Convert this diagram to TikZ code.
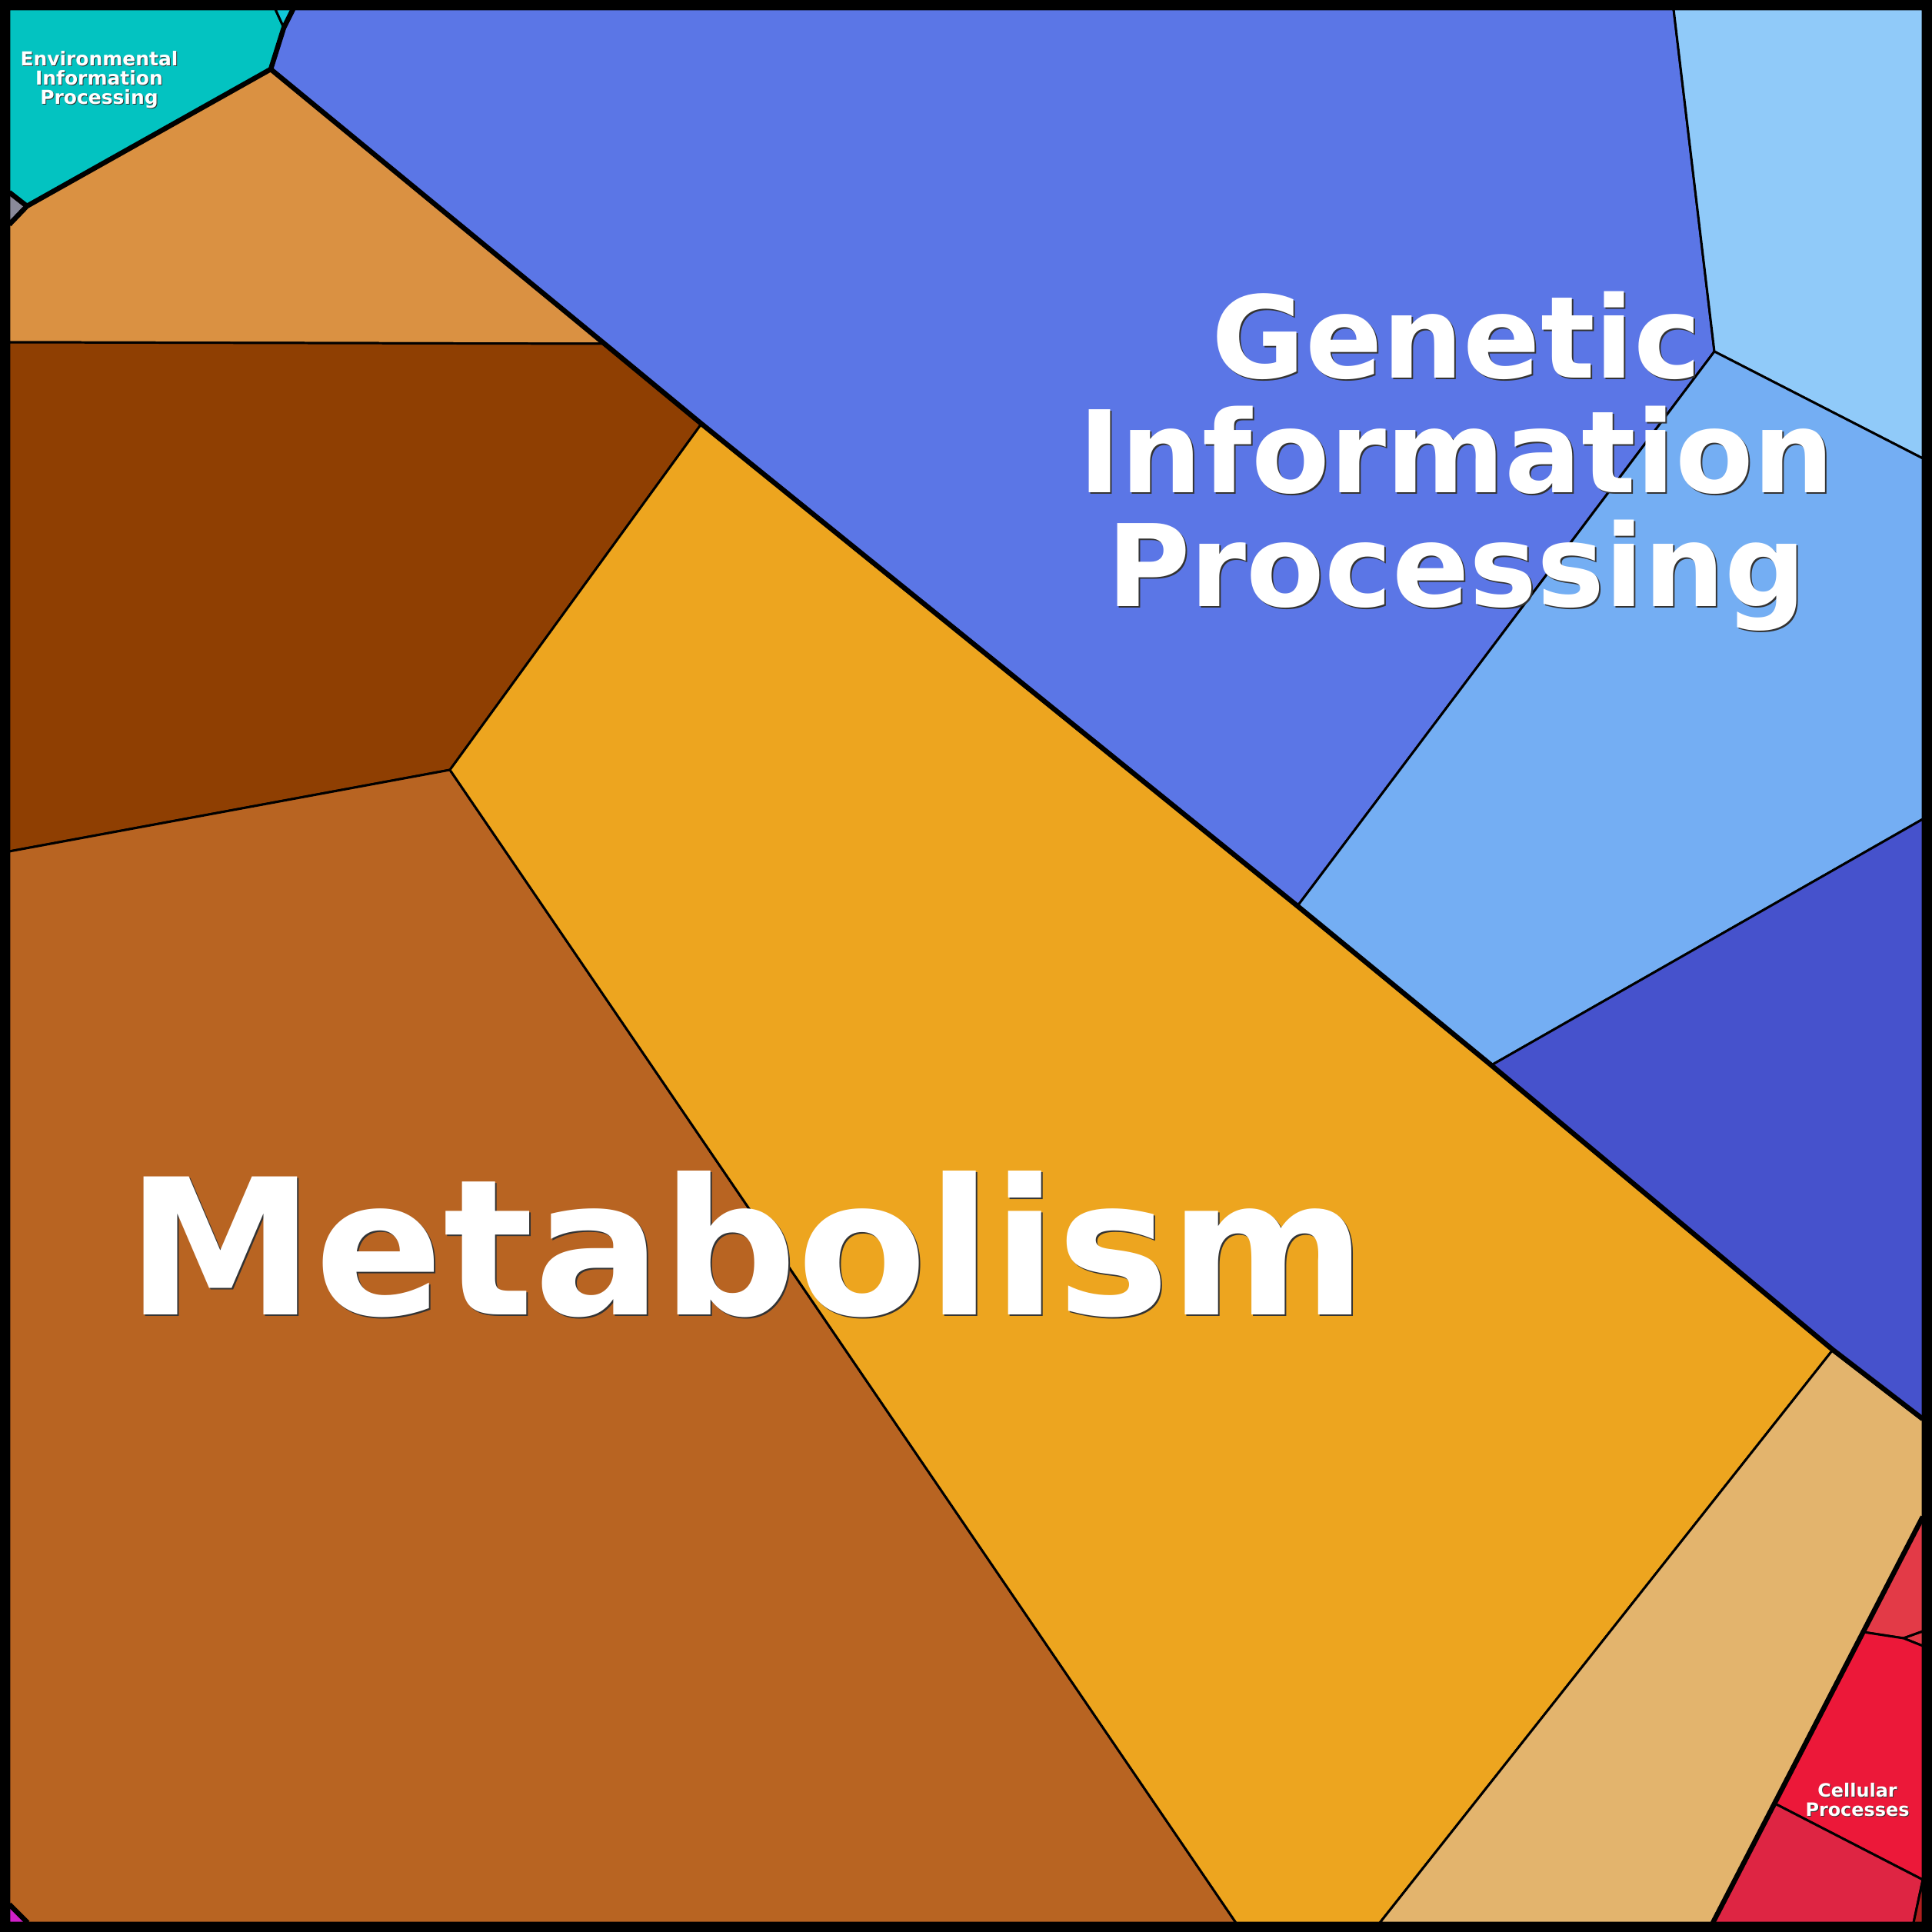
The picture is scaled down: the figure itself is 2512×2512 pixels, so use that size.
\documentclass[tikz,border=0pt]{standalone}
\usepackage{fontspec}
\setmainfont{DejaVu Sans}
\usetikzlibrary{
  calc,         % Calculations $...$
}
\definecolor{envteal}  {HTML}{03C3C1}
\definecolor{envcyan}  {HTML}{10C8D8}
\definecolor{othergray}{HTML}{8A8A9A}
\definecolor{otherpink}{HTML}{D020C8}
\definecolor{metorange}{HTML}{DA9142}
\definecolor{metdark}  {HTML}{8F3F02}
\definecolor{metbrown} {HTML}{B86422}
\definecolor{metgold}  {HTML}{EDA51F}
\definecolor{mettan}   {HTML}{E3B46D}
\definecolor{genblue}  {HTML}{5B76E6}
\definecolor{gensky}   {HTML}{90CAF9}
\definecolor{genmid}   {HTML}{74AEF3}
\definecolor{gendark}  {HTML}{4652CC}
\definecolor{celtop}   {HTML}{E33A47}
\definecolor{celmid}   {HTML}{EC1839}
\definecolor{celbot}   {HTML}{DE2543}
\definecolor{celdeep}  {HTML}{B01E1E}
\newcommand{\metafont}{\fontsize{70}{70}\selectfont\bfseries}
\newcommand{\genfont} {\fontsize{42.1}{42.25}\selectfont\bfseries}
\newcommand{\envfont} {\fontsize{7.1}{7.1}\selectfont\bfseries}
\newcommand{\celfont} {\fontsize{6.8}{7.1}\selectfont\bfseries}
\tikzset{
  x=0.01cm,
  y=-0.01cm,
  cell/.style={
    fill=#1,
    draw=black,
    line width=0.85pt,
    line join=round
  },
  border/.style={
    draw=black,
    line width=1.85pt,
    line join=round
  },
  frame/.style={
    draw=black,
    line width=3.41pt
  },
  lbl/.style={
    text=white,
    align=center,
    inner sep=0pt
  },
  lbl shadow/.style={
    lbl,
    text=black!80
  }
}
\begin{document}
\begin{tikzpicture}
\useasboundingbox (0,0) rectangle (2512,2512);
% corners and junctions
\coordinate (tl)  at (12,12);
\coordinate (tr)  at (2500,12);
\coordinate (br)  at (2500,2500);
\coordinate (bl)  at (12,2500);
\coordinate (et)  at (358,12);
\coordinate (ea)  at (381,12);
\coordinate (ec)  at (369,36);
\coordinate (eg)  at (352,90);
\coordinate (el)  at (35,268);
\coordinate (gt)  at (12,250);
\coordinate (gb)  at (12,292);
\coordinate (gm1) at (1687,1178);
\coordinate (gm2) at (1939,1385);
\coordinate (gm3) at (2383,1755);
\coordinate (gr)  at (2500,1845);
\coordinate (ob)  at (786,447);
\coordinate (bk)  at (912,551);
\coordinate (ol)  at (12,445);
\coordinate (bm)  at (585,1001);
\coordinate (bw)  at (12,1107);
\coordinate (mg1) at (12,2476);
\coordinate (mg2) at (36,2500);
\coordinate (mb1) at (1607,2500);
\coordinate (mb2) at (1794,2500);
\coordinate (sk)  at (2176,12);
\coordinate (sv)  at (2229,457);
\coordinate (sr)  at (2500,596);
\coordinate (mr)  at (2500,1065);
\coordinate (ct)  at (2500,1972);
\coordinate (cb)  at (2227,2500);
\coordinate (r1)  at ($(ct)!0.284!(cb)$);
\coordinate (r2)  at (2475,2130);
\coordinate (r3)  at (2500,2121);
\coordinate (r4)  at (2500,2140);
\coordinate (r5)  at ($(ct)!0.706!(cb)$);
\coordinate (r6)  at (2500,2444);
\coordinate (r7)  at (2488,2500);
% Environmental Information Processing
\path[cell=envteal]   (tl) -- (et) -- (ec) -- (eg) -- (el) -- (gt) -- cycle;
\path[cell=envcyan]   (et) -- (ea) -- (ec) -- cycle;
\path[cell=othergray] (gt) -- (el) -- (gb) -- cycle;
\path[cell=otherpink] (mg1) -- (mg2) -- (bl) -- cycle;
% Metabolism
\path[cell=metorange] (gb) -- (el) -- (eg) -- (ob) -- (ol) -- cycle;
\path[cell=metdark]   (ol) -- (ob) -- (bk) -- (bm) -- (bw) -- cycle;
\path[cell=metbrown]  (bw) -- (bm) -- (mb1) -- (mg2) -- (mg1) -- cycle;
\path[cell=metgold]   (bk) -- (gm1) -- (gm2) -- (gm3) -- (mb2) -- (mb1) -- (bm) -- cycle;
\path[cell=mettan]    (gm3) -- (gr) -- (ct) -- (cb) -- (mb2) -- cycle;
% Genetic Information Processing
\path[cell=genblue]   (ea) -- (sk) -- (sv) -- (gm1) -- (bk) -- (ob) -- (eg) -- (ec) -- cycle;
\path[cell=gensky]    (sk) -- (tr) -- (sr) -- (sv) -- cycle;
\path[cell=genmid]    (sv) -- (sr) -- (mr) -- (gm2) -- (gm1) -- cycle;
\path[cell=gendark]   (gm2) -- (mr) -- (gr) -- (gm3) -- cycle;
% Cellular Processes
\path[cell=celtop]    (ct) -- (r3) -- (r2) -- (r1) -- cycle;
\path[cell=celtop]    (r2) -- (r3) -- (r4) -- cycle;
\path[cell=celmid]    (r1) -- (r2) -- (r4) -- (r6) -- (r5) -- cycle;
\path[cell=celbot]    (r5) -- (r6) -- (r7) -- (cb) -- cycle;
\path[cell=celdeep]   (r6) -- (br) -- (r7) -- cycle;
% top level borders
\path[border] (ea) -- (ec) -- (eg) -- (el) -- (gb);
\path[border] (gt) -- (el);
\path[border] (eg) -- (ob) -- (bk) -- (gm1) -- (gm2) -- (gm3) -- (gr);
\path[border] (ct) -- (cb);
\path[border] (mg1) -- (mg2);
\path[frame]  (6,6) rectangle (2506,2506);
% labels
\node[lbl shadow, font=\metafont, anchor=base] (metas) at (973,1711) {Metabolism};
\node[lbl,        font=\metafont, anchor=base] (meta)  at (971,1709) {Metabolism};
\node[lbl shadow, font=\genfont] (gens) at (1896,602) {Genetic\\Information\\Processing};
\node[lbl,        font=\genfont] (gen)  at (1894,600) {Genetic\\Information\\Processing};
\node[lbl shadow, font=\envfont] (envs) at (130,104.5) {Environmental\\Information\\Processing};
\node[lbl,        font=\envfont] (env)  at (129,103.5) {Environmental\\Information\\Processing};
\node[lbl shadow, font=\celfont] (cels) at (2416,2341.5) {Cellular\\Processes};
\node[lbl,        font=\celfont] (cel)  at (2415,2340.5) {Cellular\\Processes};
\end{tikzpicture}
\end{document}
